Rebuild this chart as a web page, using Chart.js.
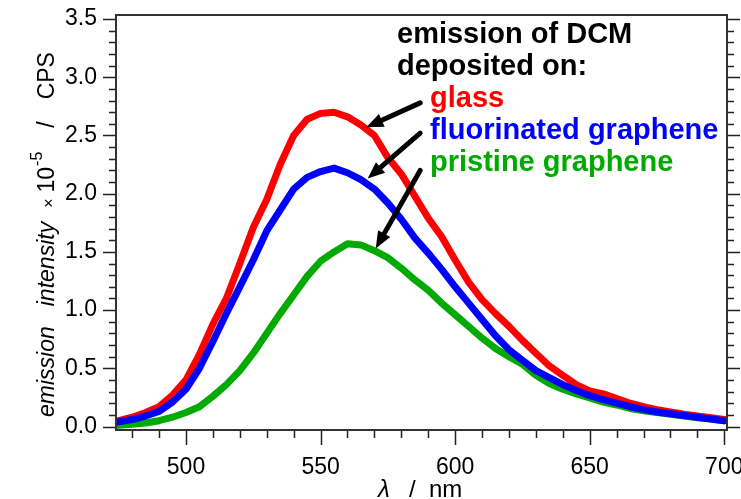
<!DOCTYPE html>
<html>
<head>
<meta charset="utf-8">
<script src="https://cdn.jsdelivr.net/npm/chart.js@4.4.1/dist/chart.umd.min.js"></script>
<style>
  html, body { margin: 0; padding: 0; background: #fff; }
  #wrap { position: relative; width: 741px; height: 499px; }
</style>
</head>
<body>
<div id="wrap"><canvas id="chart"></canvas></div>
<script>
// wavelength in nm
const wavelengths = [475, 480, 485, 490, 495, 500, 505, 510, 515, 520, 525, 530, 535, 540, 545, 550,
  555, 560, 565, 570, 575, 580, 585, 590, 595, 600, 605, 610, 615, 620, 625, 630, 635, 640, 645, 650,
  655, 660, 665, 670, 675, 680, 685, 690, 695, 700];

// emission intensity x1e-5 CPS
const glass = [0.05, 0.08, 0.12, 0.17, 0.27, 0.40, 0.62, 0.88, 1.10, 1.40, 1.71, 1.95, 2.25, 2.50, 2.64, 2.69,
  2.70, 2.66, 2.59, 2.50, 2.31, 2.17, 1.98, 1.79, 1.63, 1.43, 1.24, 1.09, 0.97, 0.86, 0.74, 0.63, 0.52, 0.44, 0.36, 0.305,
  0.28, 0.24, 0.20, 0.17, 0.145, 0.125, 0.105, 0.09, 0.075, 0.06];
const fluorinated = [0.04, 0.06, 0.09, 0.13, 0.21, 0.32, 0.50, 0.73, 0.97, 1.20, 1.43, 1.68, 1.86, 2.04, 2.14, 2.19,
  2.22, 2.18, 2.12, 2.04, 1.92, 1.78, 1.62, 1.49, 1.35, 1.20, 1.06, 0.92, 0.78, 0.66, 0.57, 0.48, 0.42, 0.36, 0.31, 0.265,
  0.23, 0.20, 0.17, 0.145, 0.125, 0.11, 0.095, 0.08, 0.065, 0.05];
const pristine = [0.01, 0.02, 0.03, 0.05, 0.08, 0.12, 0.17, 0.26, 0.36, 0.48, 0.63, 0.80, 0.97, 1.13, 1.29, 1.42,
  1.50, 1.57, 1.56, 1.51, 1.45, 1.36, 1.26, 1.17, 1.06, 0.96, 0.86, 0.76, 0.67, 0.60, 0.535, 0.44, 0.37, 0.32, 0.28, 0.245,
  0.21, 0.185, 0.155, 0.135, 0.12, 0.105, 0.09, 0.075, 0.065, 0.05];

const seriesNames = ['glass', 'fluorinated graphene', 'pristine graphene'];
const seriesColors = ['#ff0000', '#0000ff', '#00aa00'];

// arrows: [fromX, fromY, toX, toY] in data units
const arrows = [
  [587, 2.78, 567, 2.57],
  [587, 2.52, 567.5, 2.13],
  [587, 2.20, 570.5, 1.53]
];

const FONT = '"Liberation Sans", Arial, Helvetica, sans-serif';

function toPoints(vals) {
  return wavelengths.map((w, i) => ({ x: w, y: vals[i] }));
}

// keep the plot box where the reference has it
function fixScale(s, size) {
  if (s.isHorizontal()) s.height = size; else s.width = size;
  s.paddingLeft = s.paddingRight = s.paddingTop = s.paddingBottom = 0;
}

function drawArrow(ctx, x1, y1, x2, y2) {
  const ang = Math.atan2(y2 - y1, x2 - x1);
  const headLen = 17, headW = 7;
  const bx = x2 - headLen * Math.cos(ang), by = y2 - headLen * Math.sin(ang);
  ctx.beginPath();
  ctx.moveTo(x1, y1);
  ctx.lineTo(bx, by);
  ctx.lineWidth = 5;
  ctx.strokeStyle = '#000';
  ctx.lineCap = 'round';
  ctx.stroke();
  ctx.beginPath();
  ctx.moveTo(x2, y2);
  ctx.lineTo(bx + headW * Math.sin(ang), by - headW * Math.cos(ang));
  ctx.lineTo(bx - headW * Math.sin(ang), by + headW * Math.cos(ang));
  ctx.closePath();
  ctx.fillStyle = '#000';
  ctx.fill();
}

const framePlugin = {
  id: 'frame',
  afterDatasetsDraw(chart) {
    const ctx = chart.ctx;
    const area = chart.chartArea;
    const xs = chart.scales.x, ys = chart.scales.y;
    ctx.save();

    // axis ticks
    ctx.strokeStyle = '#222';
    ctx.lineWidth = 1.5;
    ctx.beginPath();
    for (let i = 0; i <= 35; i++) {
      const py = Math.round(ys.getPixelForValue(i / 10)) + 0.5;
      const len = i % 5 === 0 ? 13 : 7;
      ctx.moveTo(area.left, py); ctx.lineTo(area.left - len, py);
      ctx.moveTo(area.right, py); ctx.lineTo(area.right + len, py);
    }
    for (let w = 480; w <= 700; w += 10) {
      const px = Math.round(xs.getPixelForValue(w)) + 0.5;
      const len = w % 50 === 0 ? 15 : 8;
      ctx.moveTo(px, area.bottom); ctx.lineTo(px, area.bottom + len);
    }
    ctx.stroke();

    // plot box
    ctx.lineWidth = 2;
    ctx.strokeStyle = '#333';
    ctx.strokeRect(area.left, area.top, area.right - area.left, area.bottom - area.top);

    // arrows
    arrows.forEach(a => drawArrow(ctx,
      xs.getPixelForValue(a[0]), ys.getPixelForValue(a[1]),
      xs.getPixelForValue(a[2]), ys.getPixelForValue(a[3])));

    // annotation text
    ctx.textAlign = 'left';
    ctx.textBaseline = 'alphabetic';
    ctx.font = 'bold 29px ' + FONT;
    ctx.fillStyle = '#000';
    ctx.fillText('emission of DCM', 397, 43);
    ctx.fillText('deposited on:', 397, 75);
    seriesNames.forEach((n, i) => {
      ctx.fillStyle = seriesColors[i];
      ctx.fillText(n, 430, 107 + i * 32);
    });

    // x title
    ctx.fillStyle = '#000';
    ctx.font = 'italic 24px ' + FONT;
    ctx.fillText('λ', 378, 497);
    ctx.font = '24px ' + FONT;
    ctx.fillText('/  nm', 409, 497);

    // y title (rotated)
    ctx.translate(54, 417);
    ctx.rotate(-Math.PI / 2);
    let x = 0;
    const parts = [
      { t: 'emission', f: 'italic 23px ', dy: 0, gap: 20 },
      { t: 'intensity', f: 'italic 23px ', dy: 0, gap: 14 },
      { t: '×', f: '16px ', dy: 0, gap: 6 },
      { t: '10', f: '23px ', dy: 0, gap: 1 },
      { t: '-5', f: '16px ', dy: -12, gap: 24 },
      { t: '/', f: '23px ', dy: 0, gap: 22 },
      { t: 'CPS', f: '23px ', dy: 0, gap: 0 }
    ];
    parts.forEach(p => {
      ctx.font = p.f + FONT;
      ctx.fillText(p.t, x, p.dy);
      x += ctx.measureText(p.t).width + p.gap;
    });
    ctx.restore();
  }
};

new Chart(document.getElementById('chart'), {
  type: 'line',
  data: {
    datasets: [
      { label: seriesNames[1], data: toPoints(fluorinated), borderColor: seriesColors[1], order: 0 },
      { label: seriesNames[0], data: toPoints(glass), borderColor: seriesColors[0], order: 1 },
      { label: seriesNames[2], data: toPoints(pristine), borderColor: seriesColors[2], order: 2 }
    ]
  },
  options: {
    responsive: true,
    maintainAspectRatio: false,
    animation: false,
    layout: { autoPadding: false, padding: { top: 15, right: 14, left: 0, bottom: 0 } },
    elements: {
      point: { radius: 0 },
      line: { borderWidth: 7, tension: 0, borderJoinStyle: 'round', borderCapStyle: 'round', fill: false }
    },
    plugins: { legend: { display: false }, tooltip: { enabled: false } },
    scales: {
      x: {
        type: 'linear',
        min: 474,
        max: 701,
        grid: { display: false, drawTicks: false },
        border: { display: false },
        ticks: {
          stepSize: 50,
          includeBounds: false,
          padding: 24,
          color: '#000',
          font: { family: FONT, size: 23 },
          maxRotation: 0
        },
        afterFit: s => fixScale(s, 69)
      },
      y: {
        min: -0.03,
        max: 3.535,
        grid: { display: false, drawTicks: false },
        border: { display: false },
        ticks: {
          stepSize: 0.5,
          includeBounds: false,
          padding: 19,
          color: '#000',
          font: { family: FONT, size: 23 },
          callback: v => v.toFixed(1)
        },
        afterFit: s => fixScale(s, 116)
      }
    }
  },
  plugins: [framePlugin]
});
</script>
</body>
</html>
